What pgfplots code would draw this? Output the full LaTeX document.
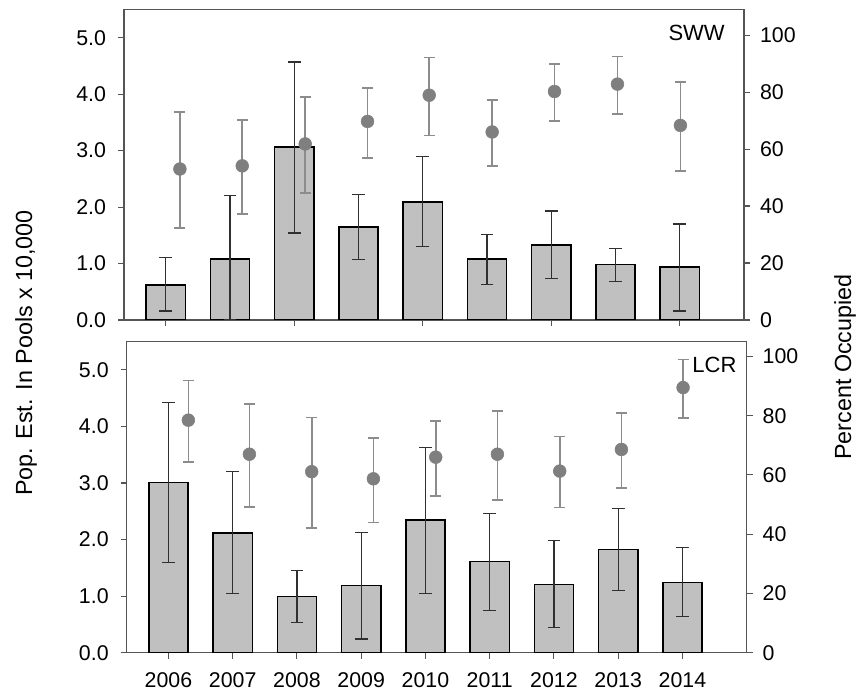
\documentclass[border=0pt]{standalone}
\usepackage{fontspec}
\setmainfont{Liberation Sans}
\usepackage{pgfplots}
\pgfplotsset{compat=1.18}
\usepackage{pgfplotstable}
\definecolor{barfill}{HTML}{C0C0C0}
\definecolor{dotc}{HTML}{7F7F7F}
\definecolor{doterr}{HTML}{8C8C8C}
\definecolor{barerr}{HTML}{303030}
\definecolor{axc}{HTML}{555555}

\pgfplotstableread{
x y ep em
0 0.62 0.48 0.46
1 1.08 1.12 1.08
2 3.06 1.51 1.52
3 1.65 0.57 0.58
4 2.09 0.80 0.79
5 1.08 0.44 0.45
6 1.33 0.60 0.60
7 0.98 0.29 0.30
8 0.94 0.76 0.78
}\swwbars

\pgfplotstableread{
x y ep em
0.22 53.0 20.1 20.7
1.19 54.1 16.1 16.8
2.17 61.8 16.4 17.2
3.14 69.7 11.8 12.8
4.10 78.9 13.3 14.2
5.08 66.0 11.2 11.9
6.05 80.2 9.6 10.3
7.03 82.8 9.7 10.6
8.01 68.3 15.3 15.9
}\swwdots

\pgfplotstableread{
x y ep em
0 3.01 1.41 1.41
1 2.12 1.08 1.08
2 0.99 0.47 0.46
3 1.19 0.94 0.95
4 2.35 1.28 1.30
5 1.61 0.85 0.87
6 1.21 0.77 0.76
7 1.82 0.73 0.72
8 1.24 0.62 0.60
}\lcrbars

\pgfplotstableread{
x y ep em
0.31 78.5 13.4 14.1
1.26 67.0 17.0 17.8
2.23 61.1 18.3 19.0
3.19 58.7 13.7 14.7
4.16 66.0 12.3 13.2
5.12 67.0 14.6 15.5
6.09 61.3 11.7 12.3
7.05 68.6 12.3 13.0
8.01 89.5 9.5 10.2
}\lcrdots

\pgfplotsset{
  common/.style={scale only axis, width=465pt, xmin=-0.65, xmax=9.0, ymin=0,
    tick align=outside, major tick length=4.5pt,
    tick style={color=axc, line width=0.8pt},
    axis line style={color=axc, line width=0.8pt},
    tick label style={font=\fontsize{16}{19}\selectfont},
    /pgf/number format/assume math mode=true},
  leftax/.style={common, ymax=5.5, ytick={0,1,...,5},
    yticklabel style={xshift=-5.5pt, /pgf/number format/fixed, /pgf/number format/fixed zerofill, /pgf/number format/precision=1},
    xticklabel style={yshift=-7pt},
    ytick pos=left, xtick pos=bottom},
  rightax/.style={common, axis x line=none, axis y line*=right, ytick={0,20,...,100},
    yticklabel style={xshift=4pt}},
  barplot/.style={ybar, bar width=0.61, bar shift=0pt, fill=barfill, draw=black, line width=1.1pt,
    error bars/.cd, y dir=both, y explicit,
    error bar style={color=barerr, line width=0.9pt},
    error mark options={color=barerr, line width=0.9pt, mark size=4.75pt, rotate=90}},
  dotplot/.style={only marks, mark=*, mark size=4.8pt, color=dotc, mark options={fill=dotc, draw=dotc},
    error bars/.cd, y dir=both, y explicit,
    error bar style={color=doterr, line width=1.2pt},
    error mark options={color=doterr, line width=1.2pt, mark size=4.1pt, rotate=90}},
}

\begin{document}
\begin{tikzpicture}
\path[use as bounding box] (0,0) rectangle (644.25pt,523.5pt);
% top panel
\begin{axis}[leftax, at={(93pt,283.5pt)}, anchor=south west, height=232.9pt,
  xtick={0,2,4,6,8}, xticklabels={}]
\addplot[barplot] table[x=x, y=y, y error plus=ep, y error minus=em] {\swwbars};
\end{axis}
\begin{axis}[rightax, at={(93pt,283.5pt)}, anchor=south west, height=232.9pt, ymax=109]
\addplot[dotplot] table[x=x, y=y, y error plus=ep, y error minus=em] {\swwdots};
\end{axis}
% bottom panel
\begin{axis}[leftax, at={(95pt,34pt)}, anchor=south west, height=233.25pt,
  xtick={0,1,...,8}, xticklabels={2006,2007,2008,2009,2010,2011,2012,2013,2014}]
\addplot[barplot] table[x=x, y=y, y error plus=ep, y error minus=em] {\lcrbars};
\end{axis}
\begin{axis}[rightax, at={(95pt,34pt)}, anchor=south west, height=233.25pt, ymax=105]
\addplot[dotplot] table[x=x, y=y, y error plus=ep, y error minus=em] {\lcrdots};
\end{axis}
\node[anchor=east, inner sep=0pt, font=\fontsize{16.5}{19}\selectfont] at (543.75pt,498.75pt) {SWW};
\node[anchor=east, inner sep=0pt, font=\fontsize{16.5}{19}\selectfont] at (552.5pt,249.75pt) {LCR};
\node[rotate=90, font=\fontsize{17.5}{20}\selectfont] at (19.5pt,258.75pt) {Pop. Est. In Pools x 10,000};
\node[rotate=90, font=\fontsize{17.5}{20}\selectfont] at (633.75pt,248.25pt) {Percent Occupied};
\end{tikzpicture}
\end{document}
